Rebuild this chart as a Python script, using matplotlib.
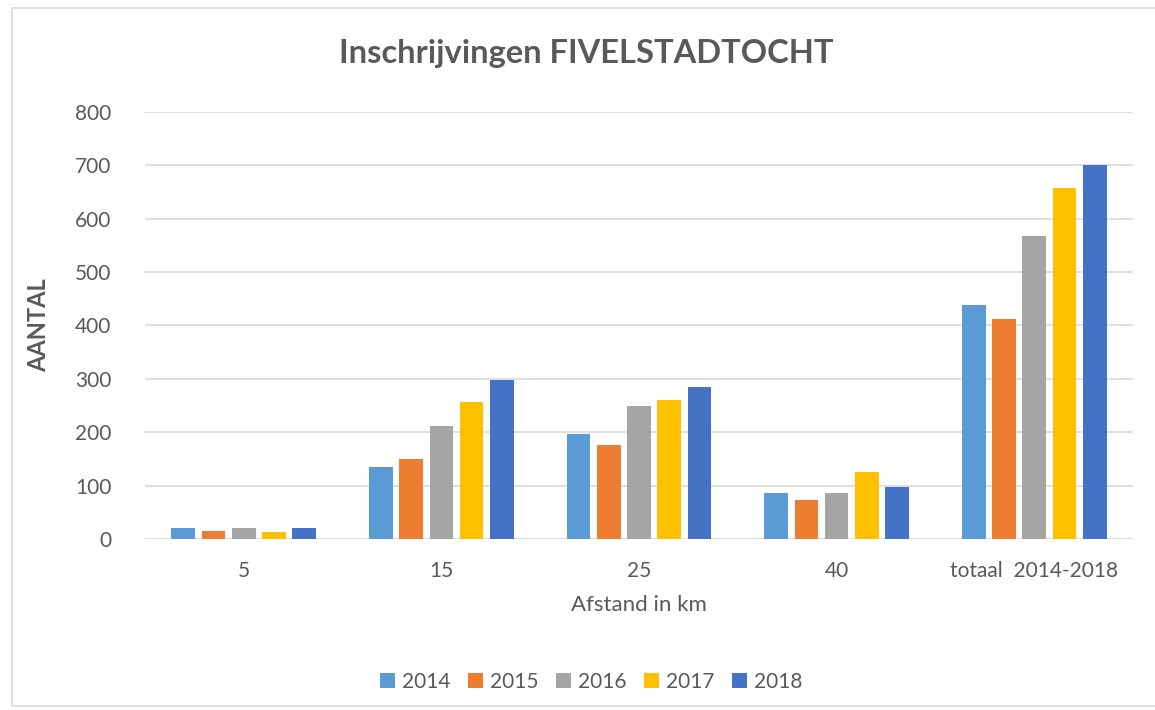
import matplotlib.pyplot as plt
from matplotlib.patches import Rectangle
import numpy as np

plt.rcParams['font.family'] = ['Lato', 'DejaVu Sans']

categories = ['5', '15', '25', '40', 'totaal  2014-2018']
years = ['2014', '2015', '2016', '2017', '2018']
v2014 = [21, 134, 196, 87, 438]
v2015 = [15, 150, 176, 73, 413]
v2016 = [21, 211, 250, 87, 568]
v2017 = [14, 257, 261, 126, 657]
v2018 = [21, 298, 284, 98, 700]
series = [v2014, v2015, v2016, v2017, v2018]
colors = ['#5b9bd5', '#ed7d31', '#a5a5a5', '#ffc000', '#4472c4']

text_col = '#595959'
fig = plt.figure(figsize=(11.55, 7.1), dpi=100)
ax = fig.add_axes([0.1255, 0.2408, 0.8555, 0.6015])

# outer chart border
fig.patches.append(Rectangle((12 / 1155, 4 / 710), 1.2, 698 / 710,
                             transform=fig.transFigure, fill=False,
                             edgecolor='#d9d9d9', linewidth=1.2))

x = np.arange(len(categories))
step = 0.153
width = 0.12
for i, (vals, col, yr) in enumerate(zip(series, colors, years)):
    ax.bar(x + (i - 2) * step, vals, width, color=col, label=yr, zorder=3)

ax.set_xlim(-0.5, len(categories) - 0.5)
ax.set_ylim(0, 800)
ax.set_yticks(range(0, 801, 100))
ax.set_xticks(x)
ax.set_xticklabels(categories)
ax.grid(axis='y', color='#d9d9d9', linewidth=1.2, zorder=0)
for s in ax.spines.values():
    s.set_visible(False)
ax.tick_params(length=0, labelsize=15, colors=text_col)
ax.tick_params(axis='x', pad=16)
ax.tick_params(axis='y', pad=24)

ax.set_xlabel('Afstand in km', fontsize=16, color=text_col, labelpad=10)
ax.set_ylabel('AANTAL', fontsize=17, color=text_col, fontweight='bold', labelpad=18)
fig.text(0.508, 0.925, 'Inschrijvingen FIVELSTADTOCHT', fontsize=23.5,
         fontweight='bold', color=text_col, ha='center', va='center')

fig.legend(loc='center', bbox_to_anchor=(0.512, 0.04), ncol=5, frameon=False,
           fontsize=15, labelcolor=text_col, handlelength=0.7, handleheight=0.7,
           handletextpad=0.35, columnspacing=0.85)

fig.savefig('out.png', dpi=100)
